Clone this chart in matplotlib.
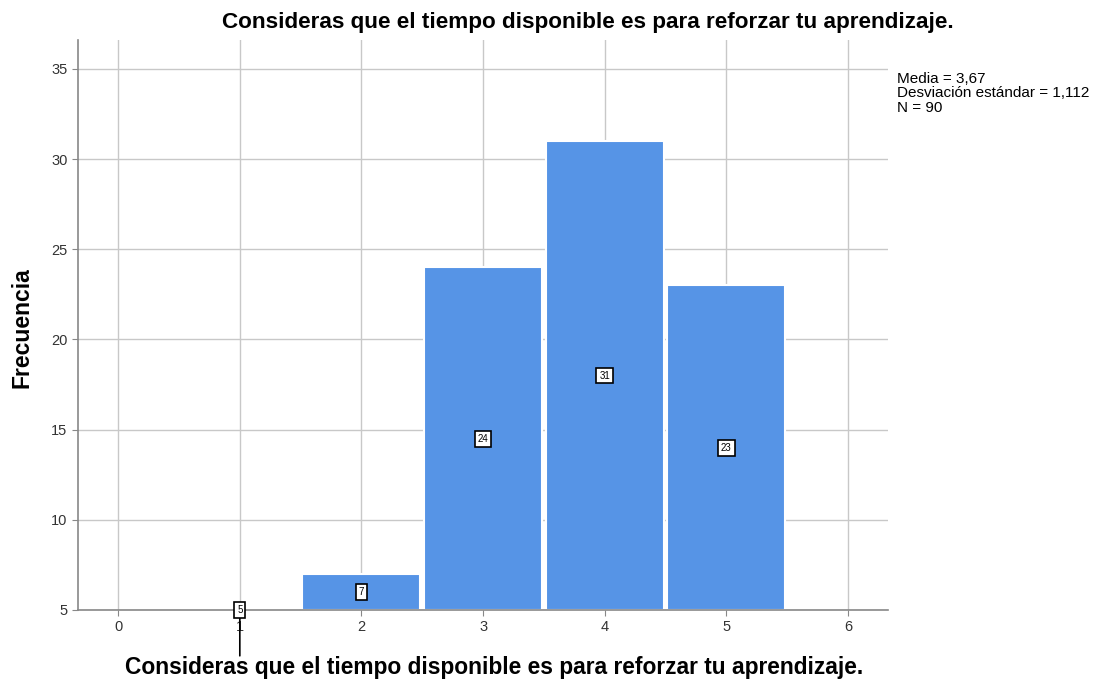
import matplotlib
matplotlib.use("Agg")
import matplotlib.pyplot as plt

plt.rcParams['font.family'] = ['Liberation Sans', 'DejaVu Sans']

categories = [1, 2, 3, 4, 5]
frequencies = [5, 7, 24, 31, 23]
xticks = [0, 1, 2, 3, 4, 5, 6]
yticks = [5, 10, 15, 20, 25, 30, 35]
title = "Consideras que el tiempo disponible es para reforzar tu aprendizaje."
xlabel = "Consideras que el tiempo disponible es para reforzar tu aprendizaje."
ylabel = "Frecuencia"
stats_text = "Media = 3,67\nDesviación estándar = 1,112\nN = 90"

ybase = 5
fig = plt.figure(figsize=(11.02, 6.82), dpi=100)
ax = fig.add_axes([0.0708, 0.1056, 0.806 - 0.0708, 0.9413 - 0.1056])
ax.set_xlim(-0.33, 6.33)
ax.set_ylim(ybase, 36.6)
ax.set_xticks(xticks)
ax.set_yticks(yticks)
ax.grid(True, color='#c8c8c8', linewidth=1.0)
ax.set_axisbelow(True)
for s in ['top', 'right']:
    ax.spines[s].set_visible(False)
for s in ['left', 'bottom']:
    ax.spines[s].set_color('#888888')
    ax.spines[s].set_linewidth(1.2)
ax.tick_params(axis='both', colors='#888888', labelcolor='#333333', labelsize=10.5, length=4)

heights = [f - ybase for f in frequencies]
ax.bar(categories, heights, bottom=ybase, width=0.97, color='#5694e6',
       edgecolor='white', linewidth=1.5, zorder=2)

box = dict(boxstyle='square,pad=0.3', fc='white', ec='black', lw=1.2)
for c, f in zip(categories, frequencies):
    ymid = (ybase + f) / 2
    if f == ybase:
        ax.annotate('', xy=(c, ymid), xytext=(0, -33), textcoords='offset points',
                    arrowprops=dict(arrowstyle='-', color='black', lw=1.2, shrinkA=0, shrinkB=0),
                    annotation_clip=False, zorder=4)
    ax.text(c, ymid, str(f), fontsize=7, ha='center', va='center', zorder=6,
            bbox=box, clip_on=False)

fig.text(0.5337, 0.967, title, ha='center', va='center', fontsize=16.2, fontweight='bold')
fig.text(0.4485, 0.021, xlabel, ha='center', va='center', fontsize=16.4, fontweight='bold')
fig.text(0.020, 0.52, ylabel, ha='center', va='center', rotation=90, fontsize=16.5, fontweight='bold')
fig.text(0.814, 0.895, stats_text, ha='left', va='top', fontsize=11, linespacing=1.05)

fig.savefig("out.png", dpi=100)
